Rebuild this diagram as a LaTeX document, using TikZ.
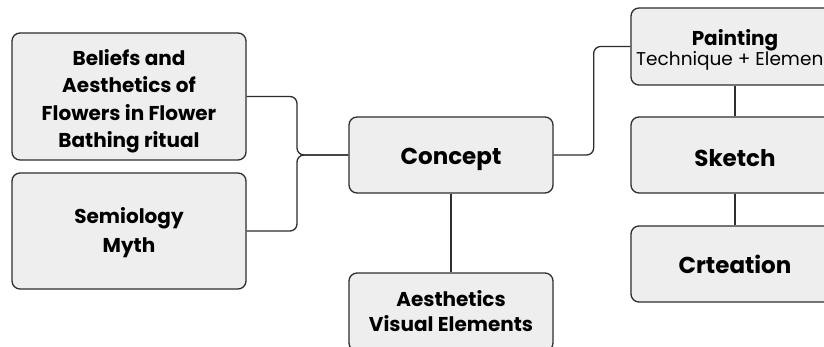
\documentclass[tikz,border=0pt]{standalone}
\usepackage{fontspec}
\setmainfont{Poppins}
\definecolor{boxfill}{HTML}{EEEEEE}
\definecolor{boxline}{HTML}{2E2E2E}
\tikzset{
  card/.style={draw=boxline, fill=boxfill, line width=1.3pt, rounded corners=8pt,
    align=center, inner sep=0pt, font=\bfseries\fontsize{20}{27.5}\selectfont},
  bigcard/.style={card, font=\bfseries\fontsize{23}{27}\selectfont},
  link/.style={draw=boxline, line width=1.3pt, rounded corners=7pt}
}
\begin{document}
\begin{tikzpicture}[x=1pt,y=-1pt]
\useasboundingbox[fill=white] (0,0) rectangle (824,347);
\node[card, minimum width=234pt, minimum height=127pt] (B) at (129,96.5) {};
\node[font=\bfseries\fontsize{20}{27.5}\selectfont, align=center, anchor=base, inner sep=0pt] (Bt) at (129,148)
  {Beliefs and\\Aesthetics of\\Flowers in Flower\\Bathing ritual};
\node[card, minimum width=234pt, minimum height=116pt] (S) at (129,231) {};
\node[font=\bfseries\fontsize{20}{29}\selectfont, align=center, anchor=base, inner sep=0pt] (St) at (129,253)
  {Semiology\\Myth};
\node[bigcard, minimum width=204pt, minimum height=76pt] (C) at (451,155) {};
\node[font=\bfseries\fontsize{23}{27}\selectfont, anchor=base, inner sep=0pt] (Ct) at (451,165) {Concept};
\node[card, minimum width=204pt, minimum height=78pt] (A) at (451,312) {};
\node[font=\bfseries\fontsize{20}{25}\selectfont, align=center, anchor=base, inner sep=0pt] (At) at (451,331)
  {Aesthetics\\Visual Elements};
\node[card, minimum width=208pt, minimum height=77pt] (P) at (735,46.5) {};
\node[font=\bfseries\fontsize{20}{20}\selectfont, anchor=base, inner sep=0pt] (Pt) at (735,46) {Painting};
\node[font=\fontsize{18.5}{20}\selectfont, anchor=base west, inner sep=0pt] (Ps) at (636,66) {Technique + Elemen};
\node[bigcard, minimum width=208pt, minimum height=76pt] (K) at (735,155) {};
\node[font=\bfseries\fontsize{23}{27}\selectfont, anchor=base, inner sep=0pt] (Kt) at (735,167) {Sketch};
\node[bigcard, minimum width=208pt, minimum height=76pt] (R) at (735,264) {};
\node[font=\bfseries\fontsize{23}{27}\selectfont, anchor=base, inner sep=0pt] (Rt) at (735,273) {Crteation};
\coordinate (j) at (297,155);
\draw[link] (B.east) -| (j) -- (C.west);
\draw[link] (S.east) -| (j) -- (C.west);
\draw[link] (C.east) -- ++(40,0) |- (P.west);
\draw[link] (C.south) -- (A.north);
\draw[link] (P.south) -- (K.north);
\draw[link] (K.south) -- (R.north);
\end{tikzpicture}
\end{document}
